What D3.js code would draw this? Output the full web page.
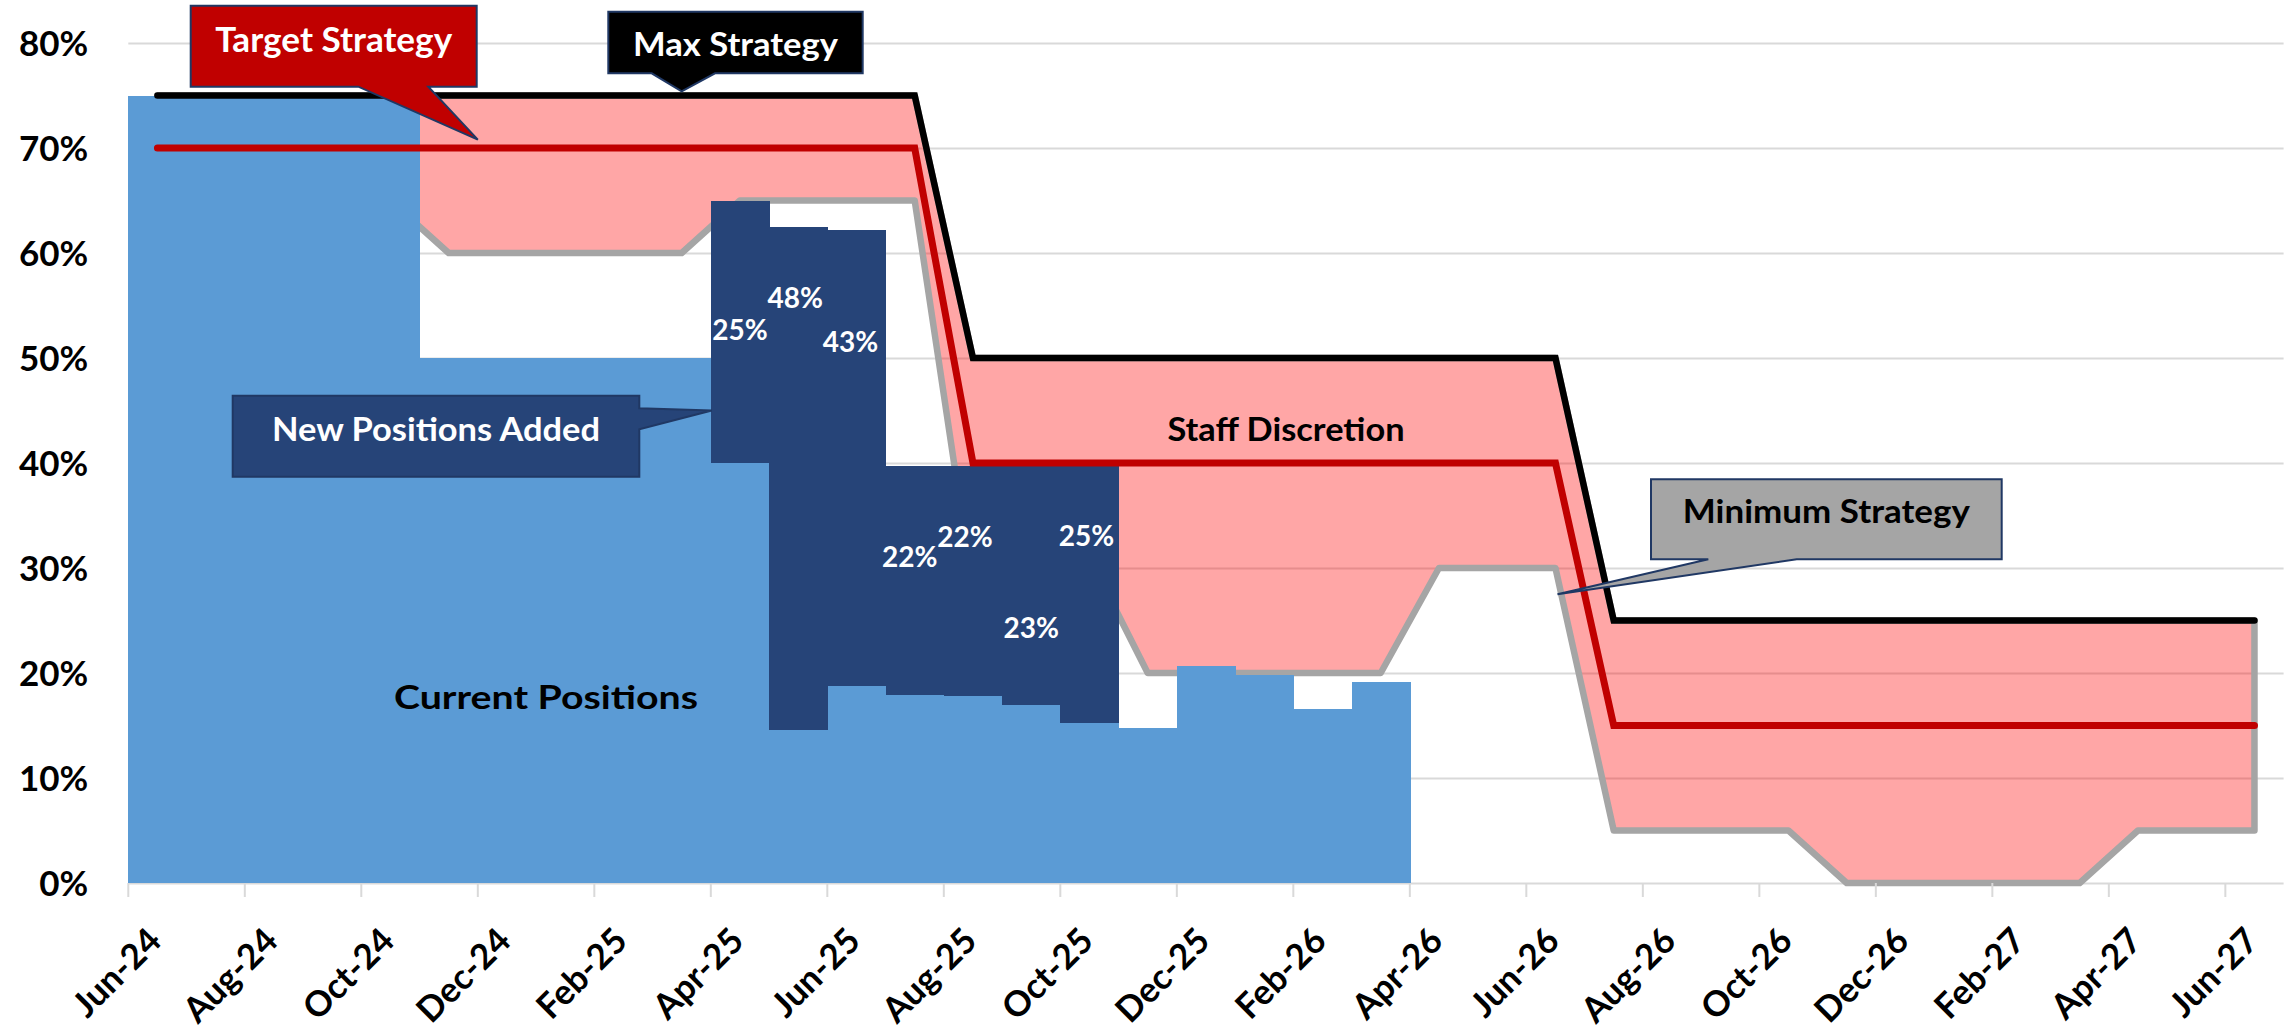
<!DOCTYPE html>
<html><head><meta charset="utf-8">
<script src="https://cdn.jsdelivr.net/npm/d3@7"></script>
<style>html,body{margin:0;padding:0;background:#fff;}svg{display:block;font-family:Lato,"Open Sans",sans-serif;}</style>
</head><body>
<svg id="chart" width="2287" height="1030"></svg>
<script>
// ---------------- DATA ----------------
const categories = ["Jun-24","Jul-24","Aug-24","Sep-24","Oct-24","Nov-24","Dec-24","Jan-25","Feb-25","Mar-25",
  "Apr-25","May-25","Jun-25","Jul-25","Aug-25","Sep-25","Oct-25","Nov-25","Dec-25","Jan-26","Feb-26","Mar-26",
  "Apr-26","May-26","Jun-26","Jul-26","Aug-26","Sep-26","Oct-26","Nov-26","Dec-26","Jan-27","Feb-27","Mar-27",
  "Apr-27","May-27","Jun-27"];
const tickLabels = ["Jun-24","Aug-24","Oct-24","Dec-24","Feb-25","Apr-25","Jun-25","Aug-25","Oct-25","Dec-25",
  "Feb-26","Apr-26","Jun-26","Aug-26","Oct-26","Dec-26","Feb-27","Apr-27","Jun-27"];
const yTicks = [0, 0.1, 0.2, 0.3, 0.4, 0.5, 0.6, 0.7, 0.8];

const currentPositions = [0.75,0.75,0.75,0.75,0.75,0.50,0.50,0.50,0.50,0.50,
  0.40,0.146,0.188,0.179,0.178,0.170,0.152,0.148,0.207,0.198,0.166,0.191,
  null,null,null,null,null,null,null,null,null,null,null,null,null,null,null];
const newPositions = [null,null,null,null,null,null,null,null,null,null,
  0.25,0.479,0.434,0.218,0.219,0.227,0.246,null,null,null,null,null,
  null,null,null,null,null,null,null,null,null,null,null,null,null,null,null];
const maxStrategy = [0.75,0.75,0.75,0.75,0.75,0.75,0.75,0.75,0.75,0.75,0.75,0.75,0.75,0.75,
  0.50,0.50,0.50,0.50,0.50,0.50,0.50,0.50,0.50,0.50,0.50,
  0.25,0.25,0.25,0.25,0.25,0.25,0.25,0.25,0.25,0.25,0.25,0.25];
const targetStrategy = [0.70,0.70,0.70,0.70,0.70,0.70,0.70,0.70,0.70,0.70,0.70,0.70,0.70,0.70,
  0.40,0.40,0.40,0.40,0.40,0.40,0.40,0.40,0.40,0.40,0.40,
  0.15,0.15,0.15,0.15,0.15,0.15,0.15,0.15,0.15,0.15,0.15,0.15];
const minStrategy = [0.65,0.65,0.65,0.65,0.65,0.60,0.60,0.60,0.60,0.60,0.65,0.65,0.65,0.65,
  0.28,0.30,0.31,0.20,0.20,0.20,0.20,0.20,0.30,0.30,0.30,
  0.05,0.05,0.05,0.05,0.00,0.00,0.00,0.00,0.00,0.05,0.05,0.05];

// ---------------- LAYOUT ----------------
const svg = d3.select("#chart");
const x = d3.scaleBand().domain(categories).range([128.3, 2283.6]).paddingInner(0).paddingOuter(0);
const y = d3.scaleLinear().domain([0, 0.8]).range([883, 43]);
const bw = x.bandwidth();
const cx = c => x(c) + bw / 2;
const FONT = 'Lato, "Open Sans", sans-serif';

// y axis with gridlines
const yAxis = svg.append("g").attr("transform", `translate(${x.range()[0]},0)`)
  .call(d3.axisLeft(y).tickValues(yTicks).tickFormat(d3.format(".0%"))
    .tickSize(-(x.range()[1] - x.range()[0])).tickPadding(40));
yAxis.select(".domain").remove();
yAxis.selectAll(".tick line").attr("stroke", "#D9D9D9").attr("stroke-width", 2);
yAxis.selectAll(".tick text").attr("font-family", FONT).attr("font-weight", 700)
  .attr("font-size", 35).attr("fill", "#000").attr("dy", "0.36em");

// strategy band (area between min and max)
const band = d3.area()
  .x(c => cx(c))
  .y0((c, i) => y(minStrategy[i]))
  .y1((c, i) => y(maxStrategy[i]));
svg.append("path").datum(categories).attr("d", band)
  .attr("fill", "rgba(255,0,0,0.35)")
  .attr("stroke", "#A5A5A5").attr("stroke-width", 6.5).attr("stroke-linejoin", "round");

// stacked columns
const rows = categories.map((c, i) => ({cat: c, current: currentPositions[i], added: newPositions[i]}));
const stack = d3.stack().keys(["current", "added"]).value((d, k) => d[k] == null ? 0 : d[k]);
const series = stack(rows);
const colColors = {current: "#5B9BD5", added: "#264478"};
series.forEach(s => {
  svg.append("g").attr("shape-rendering", "crispEdges")
    .selectAll("rect").data(s.filter(d => d[1] - d[0] > 0)).join("rect")
    .attr("x", d => x(d.data.cat)).attr("width", bw + 0.8)
    .attr("y", d => y(d[1])).attr("height", d => y(d[0]) - y(d[1]))
    .attr("fill", colColors[s.key]);
});

// x axis ticks (between categories) and labels
svg.append("g").selectAll("line").data(tickLabels).join("line")
  .attr("x1", d => x(d)).attr("x2", d => x(d)).attr("y1", y(0)).attr("y2", y(0) + 14)
  .attr("stroke", "#D9D9D9").attr("stroke-width", 2);
const xAxis = svg.append("g").attr("transform", `translate(0,${y(0)})`)
  .call(d3.axisBottom(x).tickValues(tickLabels).tickSize(0));
xAxis.select(".domain").remove();
xAxis.selectAll(".tick text").attr("font-family", FONT).attr("font-weight", 700)
  .attr("font-size", 35).attr("fill", "#000").attr("text-anchor", "end")
  .attr("y", 0).attr("dy", 0).attr("transform", "translate(6,60) rotate(-45)");

// strategy lines
const lineOf = vals => d3.line().x(c => cx(c)).y((c, i) => y(vals[i]));
svg.append("path").datum(categories).attr("d", lineOf(maxStrategy))
  .attr("fill", "none").attr("stroke", "#000").attr("stroke-width", 6.5)
  .attr("stroke-linecap", "round").attr("stroke-linejoin", "miter");
svg.append("path").datum(categories).attr("d", lineOf(targetStrategy))
  .attr("fill", "none").attr("stroke", "#C00000").attr("stroke-width", 7)
  .attr("stroke-linecap", "round").attr("stroke-linejoin", "miter");

// data labels for new positions (manually placed in source)
const labelDy = [129, 71, 112, 91, 71, 162, 71];
const labelDx = [0, -3, -6, -5, -8, 0, -3];
const added = series[1].filter(d => d[1] - d[0] > 0);
svg.append("g").selectAll("text").data(added).join("text")
  .attr("x", (d, i) => cx(d.data.cat) + labelDx[i])
  .attr("y", (d, i) => y(d[1]) + labelDy[i])
  .attr("dy", "0.36em").attr("text-anchor", "middle")
  .attr("font-family", FONT).attr("font-weight", 700).attr("font-size", 28).attr("fill", "#fff")
  .text(d => d3.format(".0%")(d.data.added));

// free text
function label(t, xc, base, w, size, color) {
  svg.append("text").attr("x", xc).attr("y", base).attr("text-anchor", "middle")
    .attr("font-family", FONT).attr("font-weight", 700).attr("font-size", size).attr("fill", color)
    .attr("textLength", w).attr("lengthAdjust", "spacingAndGlyphs").text(t);
}
label("Current Positions", 546, 708.6, 304, 33, "#000");
label("Staff Discretion", 1286, 441.4, 237, 33, "#000");

// callouts
function callout(b, tail, fill, txt, txtColor, tb) {
  const p = d3.path();
  p.moveTo(b.x0, b.y0);
  if (tail.side === "bottom") {
    p.lineTo(b.x1, b.y0); p.lineTo(b.x1, b.y1);
    p.lineTo(tail.b1, b.y1); p.lineTo(tail.tx, tail.ty); p.lineTo(tail.b0, b.y1);
    p.lineTo(b.x0, b.y1);
  } else { // right side
    p.lineTo(b.x1, b.y0); p.lineTo(b.x1, tail.b0); p.lineTo(tail.tx, tail.ty);
    p.lineTo(b.x1, tail.b1); p.lineTo(b.x1, b.y1); p.lineTo(b.x0, b.y1);
  }
  p.closePath();
  svg.append("path").attr("d", p.toString()).attr("fill", fill)
    .attr("stroke", "#203864").attr("stroke-width", 2).attr("stroke-linejoin", "miter");
  label(txt, (b.x0 + b.x1) / 2, tb.base, tb.w, tb.size, txtColor);
}
callout({x0: 190.7, y0: 5.7, x1: 476.7, y1: 86.7},
  {side: "bottom", b0: 358.3, b1: 428.3, tx: x("Dec-24"), ty: y(0.708)},
  "#C00000", "Target Strategy", "#fff", {base: 52, w: 237, size: 34});
callout({x0: 608.3, y0: 11.7, x1: 862.7, y1: 73.3},
  {side: "bottom", b0: 651.7, b1: 715, tx: cx("Mar-25"), ty: y(0.754)},
  "#000", "Max Strategy", "#fff", {base: 56, w: 205, size: 33});
callout({x0: 232.7, y0: 395.7, x1: 639.3, y1: 476.7},
  {side: "right", b0: 408.3, b1: 429.3, tx: x("Apr-25") + 1, ty: y(0.45)},
  "#264478", "New Positions Added", "#fff", {base: 441, w: 328, size: 33});
callout({x0: 1651, y0: 479.3, x1: 2001.7, y1: 559.3},
  {side: "bottom", b0: 1708.3, b1: 1796.7, tx: cx("Jun-26") + 2, ty: y(0.275)},
  "#A5A5A5", "Minimum Strategy", "#000", {base: 523.3, w: 287, size: 33});
</script>
</body></html>
